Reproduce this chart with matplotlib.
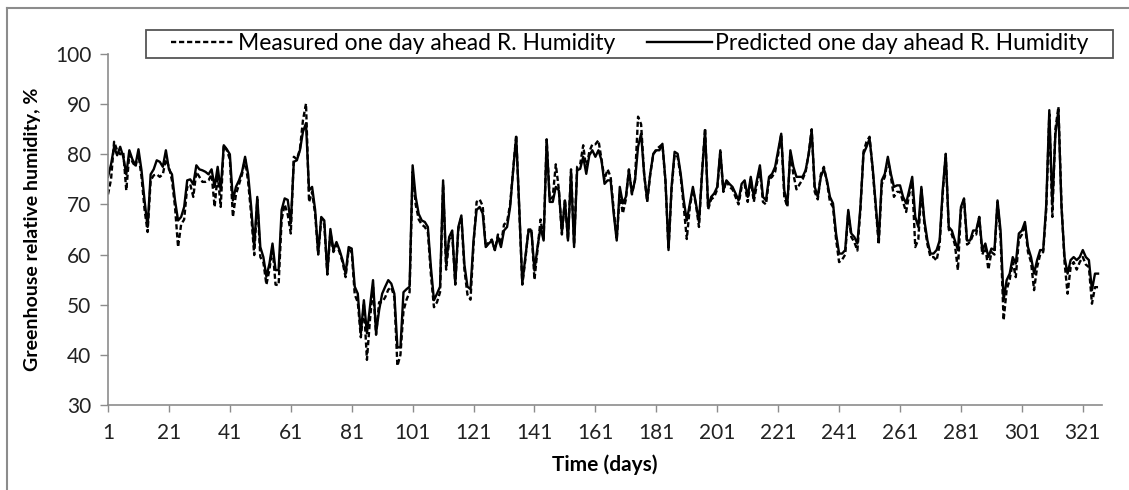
import matplotlib.pyplot as plt
import numpy as np
from matplotlib.lines import Line2D
from matplotlib.patches import Rectangle

plt.rcParams['font.family'] = ['Lato', 'DejaVu Sans']

# predicted one day ahead relative humidity, days 1..326
predicted = [
    75.5, 78, 81.5, 79.8, 81.5, 79.5, 76, 80.8, 79, 77.8,
    81, 76.8, 70.8, 65.5, 76, 77, 78.8, 78.5, 77.5, 80.8,
    77, 76, 70.8, 66.8, 67.5, 69.5, 74.8, 75, 74, 77.8,
    77, 76.8, 76.5, 76, 77, 73.5, 77.5, 72.8, 81.8, 81,
    80, 70.8, 73.5, 74.8, 76.5, 79.5, 76, 69.5, 61.5, 71.5,
    61.5, 59.5, 55.6, 58.2, 62.2, 56.9, 56.9, 68.9, 71.2, 70.9,
    66.2, 78.5, 78.8, 80.8, 84.5, 86.2, 72.8, 73.5, 68.9, 60.2,
    67.5, 66.8, 56.2, 65.1, 60.9, 62.5, 60.9, 58.9, 56.2, 61.5,
    61.2, 53.6, 52.2, 44.3, 50.9, 44.3, 49.6, 54.9, 44.3, 48.9,
    52.2, 53.6, 54.9, 54.2, 52.2, 41.5, 41.5, 52.5, 53.1, 53.6,
    77.8, 71.5, 68.1, 66.8, 66.5, 65.5, 57.5, 50.9, 52.2, 53.6,
    74.8, 58.2, 63.5, 64.8, 54.2, 65.5, 67.8, 58, 53.6, 53.1,
    62.9, 68.9, 69.5, 68.2, 61.5, 62.2, 62.8, 60.9, 63.5, 61.5,
    64.8, 65.5, 69.5, 76.8, 83.5, 69.5, 54.2, 59.5, 64.5, 64.8,
    56.8, 61.5, 65.5, 62.8, 82.8, 70.5, 70.5, 73.5, 72.8, 64.5,
    70.8, 62.8, 76.5, 61.5, 76.8, 77.1, 79.5, 76.1, 79.8, 80.8,
    79.5, 80.8, 78.8, 74.1, 74.8, 74.8, 68.2, 62.8, 73.5, 70.2,
    71.5, 76.8, 72.2, 74.8, 81.5, 84.1, 76.1, 70.8, 76.1, 80.1,
    80.8, 80.8, 82.1, 74.8, 60.9, 73.5, 80.5, 80.1, 76.1, 70.8,
    66.8, 70.2, 73.5, 70.2, 66.5, 76.1, 84.8, 69.5, 71.5, 72.2,
    73.5, 80.8, 72.8, 74.8, 74.1, 73.5, 72.2, 70.8, 74.1, 74.8,
    71.5, 75.5, 71.5, 74.8, 77.8, 71.5, 70.8, 75.5, 76.1, 77.5,
    80.8, 84.1, 72.8, 69.9, 80.8, 77.5, 75.5, 75.5, 75.5, 76.8,
    80, 84.8, 73.5, 71.5, 75.5, 77.1, 74.8, 71.5, 70.2, 64.2,
    60.2, 60.2, 60.9, 68.9, 64.2, 63.5, 62.2, 69.5, 80.1, 81.5,
    83.1, 77.5, 70.2, 62.8, 74.8, 76.1, 79.5, 76.1, 73.5, 73.8,
    73.8, 71.5, 70.2, 72.8, 75.5, 67.5, 65.5, 73.5, 66.8, 62.8,
    60.2, 60.2, 60.9, 62.8, 72.8, 80.1, 65.5, 64.8, 62.8, 60.9,
    69.5, 71.2, 62.8, 62.8, 64.8, 64.8, 67.5, 60.9, 62.2, 59.5,
    61.2, 60.9, 70.8, 64.8, 50.9, 54.9, 56.2, 59.5, 58.2, 64.2,
    64.8, 66.5, 61.5, 59.5, 56.2, 58.9, 60.9, 60.9, 70, 88.8,
    70, 84, 88.8, 69.5, 59.5, 56.2, 58.9, 59.5, 58.9, 59.5,
    60.9, 59.5, 58.9, 52.9, 56.2, 56.2,
]

# measured one day ahead relative humidity, days 1..326
measured = [
    72, 75, 82.5, 80.8, 80, 80.5, 72.8, 80, 78.5, 77.5,
    80, 75.5, 69, 64.5, 74.8, 75.8, 76, 75.5, 76, 79,
    77.5, 74.8, 69.5, 61.5, 66, 67, 73.5, 74, 71.5, 76.5,
    75.5, 74.5, 74.5, 74.8, 76, 69.5, 76, 69.5, 81.8, 80.8,
    79, 67.5, 72, 74, 76, 79, 74.5, 68, 59.9, 71,
    59.5, 58.5, 54, 57, 61.5, 54, 53.9, 67, 70, 68,
    64.2, 79.5, 79, 81, 86.8, 90.1, 70.5, 72.5, 68, 60,
    67, 66, 56, 64.5, 60.5, 62, 60.5, 58.5, 55.5, 61,
    60.5, 52, 50.5, 43.5, 50, 39, 47, 53.5, 44, 50.5,
    50.5, 51.5, 53, 53.5, 51.5, 37.8, 40, 48.8, 51, 52.5,
    76.5, 70, 67, 66, 65.5, 64.5, 56, 49.5, 50.5, 52.5,
    74, 57, 63, 64, 54, 65, 67.5, 57, 52, 51,
    62, 70.5, 71, 69.7, 61.5, 62.5, 63, 60.9, 64, 62,
    66, 66.5, 70, 77, 83.8, 69, 54, 59, 65, 65,
    55, 61, 67, 63, 83, 71, 71.5, 78, 73, 64,
    71, 63, 77, 62, 77.5, 78, 81.8, 77, 80.5, 82,
    82, 82.8, 79, 75, 77, 75.5, 69, 63, 72, 68.2,
    71, 77, 72, 75, 87.5, 86, 76, 70.5, 76, 80,
    81, 81.5, 82, 74.5, 61, 73, 80, 79.5, 75.5, 69.5,
    63.1, 69.5, 73, 70, 65.5, 76.5, 85.2, 69, 71, 71.5,
    73, 80.5, 72.5, 74.8, 73.5, 73, 71.5, 70, 73.5, 74,
    70.5, 75, 70.5, 74, 77, 70.5, 70, 75, 75.5, 76.5,
    80, 84, 71.5, 69.5, 80.5, 76, 73, 74, 75, 76.5,
    80, 85, 72.5, 71, 76, 77.5, 74.5, 70.5, 69.5, 63,
    58.5, 59, 60, 68.5, 63.5, 62.5, 60.8, 69, 80.5, 82.5,
    83.5, 77, 69.5, 62, 74, 75.5, 79, 75.5, 71.5, 72.5,
    72.5, 70.5, 68.5, 72, 74.5, 61.5, 63, 73, 66, 62,
    59.5, 59.5, 58.8, 62, 72, 80, 65, 64, 62, 56.9,
    69, 71, 62, 62.5, 64, 64, 67.5, 60, 61.5, 57,
    60.5, 60, 70.5, 63.5, 46.9, 53, 55, 58.5, 55.5, 63,
    64, 66, 60.5, 58.5, 52.9, 57.5, 60, 60.5, 69, 88,
    67.5, 85, 89.5, 70, 58.5, 52.2, 57.5, 58.5, 57, 58.5,
    59.5, 58, 57.5, 50.2, 53.5, 53.5,
]

days = np.arange(1, len(predicted) + 1)
xtick_labels = [str(d) for d in range(1, 322, 20)]
yticks = [30, 40, 50, 60, 70, 80, 90, 100]

W, H = 1129, 490
fig = plt.figure(figsize=(W / 100, H / 100), dpi=100)
ax = fig.add_axes([108 / W, 1 - 405 / H, (1102 - 108) / W, (405 - 54) / H])

ax.plot(days, measured, color='black', linewidth=1.7, linestyle=(0, (2.2, 1.2)),
        label='Measured one day ahead R. Humidity')
ax.plot(days, predicted, color='black', linewidth=1.7,
        label='Predicted one day ahead R. Humidity')

ax.set_xlim(1, 327.3)
ax.set_ylim(30, 100)
ax.set_yticks(yticks)
ax.set_xticks(range(1, 322, 20))
ax.set_xticklabels(xtick_labels)

for side in ['top', 'right']:
    ax.spines[side].set_visible(False)
for side in ['left', 'bottom']:
    ax.spines[side].set_color('#8c8c8c')
    ax.spines[side].set_linewidth(1.2)

ax.tick_params(axis='y', direction='out', length=6, width=1, color='#8c8c8c',
               labelsize=15, pad=6, labelcolor='#222222')
ax.tick_params(axis='x', direction='out', length=5, width=1, color='#8c8c8c',
               labelsize=15, pad=8, labelcolor='#222222')

ax.set_xlabel('Time (days)', fontsize=15, fontweight='bold', labelpad=8)
ax.set_ylabel('Greenhouse relative humidity, %', fontsize=14, fontweight='bold', labelpad=10)

# legend box drawn by hand, entries placed inside it
box_l, box_r, box_t, box_b = 146, 1113, 30, 58
fig.add_artist(Rectangle((box_l / W, 1 - box_b / H), (box_r - box_l) / W,
                         (box_b - box_t) / H, transform=fig.transFigure,
                         facecolor='white', edgecolor='#555555', linewidth=1.3,
                         zorder=5))
leg = fig.legend(loc='center', bbox_to_anchor=((box_l + box_r) / 2 / W, 1 - (box_t + box_b) / 2 / H),
                 ncol=2, fontsize=16.5, frameon=False, handlelength=2.8,
                 handletextpad=0.15, columnspacing=1.4, borderpad=0.0)
leg.set_zorder(6)

# outer chart-area border (top and left edges visible)
fig.add_artist(Line2D([7 / W, 7 / W], [0, 1 - 8 / H], transform=fig.transFigure,
                      color='#8c8c8c', linewidth=1.5))
fig.add_artist(Line2D([7 / W, 1], [1 - 8 / H, 1 - 8 / H], transform=fig.transFigure,
                      color='#8c8c8c', linewidth=1.5))

fig.savefig('out.png', dpi=100)
